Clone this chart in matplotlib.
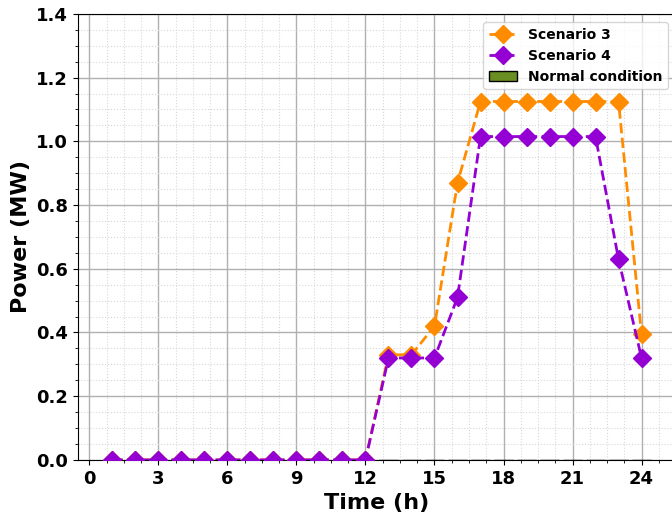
import matplotlib
matplotlib.use("Agg")
import matplotlib.pyplot as plt
from matplotlib.ticker import MultipleLocator, AutoMinorLocator

hours = list(range(1, 25))
scenario3 = [0, 0, 0, 0, 0, 0, 0, 0, 0, 0, 0, 0,
             0.33, 0.33, 0.42, 0.87, 1.125, 1.125, 1.125, 1.125, 1.125, 1.125, 1.125, 0.395]
scenario4 = [0, 0, 0, 0, 0, 0, 0, 0, 0, 0, 0, 0,
             0.32, 0.32, 0.32, 0.51, 1.015, 1.015, 1.015, 1.015, 1.015, 1.015, 0.63, 0.32]
normal = [0] * 24

fig = plt.figure(figsize=(6.72, 5.15), dpi=100)
ax = fig.add_axes([0.116, 0.107, 0.89, 0.866])

ax.bar(hours, normal, width=0.8, color="olivedrab", edgecolor="black",
       label="Normal condition", zorder=2)
ax.plot(hours, scenario3, color="darkorange", linestyle="--", linewidth=2,
        marker="D", markersize=9, label="Scenario 3", zorder=3)
ax.plot(hours, scenario4, color="darkviolet", linestyle="--", linewidth=2,
        marker="D", markersize=9, label="Scenario 4", zorder=4)

ax.set_xlim(-0.5, 25.5)
ax.set_ylim(0, 1.4)
ax.xaxis.set_major_locator(MultipleLocator(3))
ax.xaxis.set_minor_locator(AutoMinorLocator(4))
ax.yaxis.set_major_locator(MultipleLocator(0.2))
ax.yaxis.set_minor_locator(AutoMinorLocator(4))
ax.yaxis.set_major_formatter(plt.FuncFormatter(lambda v, p: f"{v:.1f}"))

ax.grid(which="major", color="#b0b0b0", linewidth=1.0)
ax.grid(which="minor", color="#d8d8d8", linestyle=":", linewidth=0.8)
ax.set_axisbelow(True)

for lbl in ax.get_xticklabels() + ax.get_yticklabels():
    lbl.set_fontweight("bold")
ax.tick_params(labelsize=13)
ax.set_xlabel("Time (h)", fontsize=16, fontweight="bold")
ax.set_ylabel("Power (MW)", fontsize=16, fontweight="bold")

ax.legend(loc="upper right", prop={"weight": "bold", "size": 10},
          borderaxespad=0.6)

fig.savefig("out.png", dpi=100)
